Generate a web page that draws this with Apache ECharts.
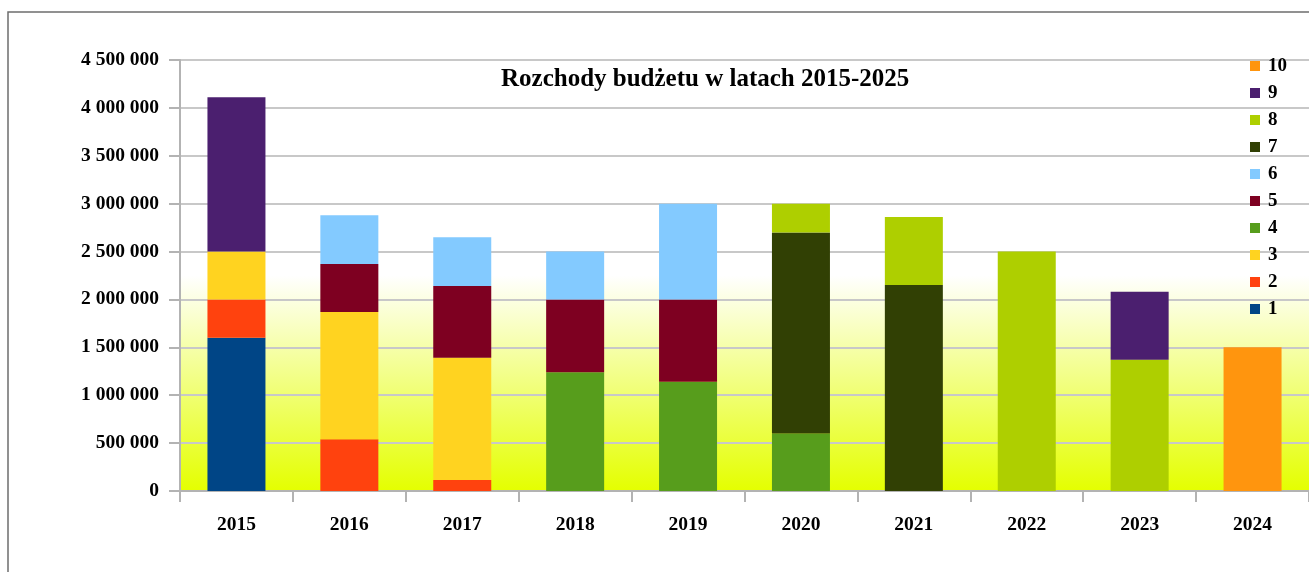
<!DOCTYPE html>
<html>
<head>
<meta charset="utf-8">
<script src="https://cdn.jsdelivr.net/npm/echarts@6/dist/echarts.min.js"></script>
<style>
html,body{margin:0;padding:0;background:#fff;}
#c{width:1309px;height:572px;}
</style>
</head>
<body>
<div id="c"></div>
<script>
const categories = ['2015','2016','2017','2018','2019','2020','2021','2022','2023','2024'];
const seriesNames = ['1','2','3','4','5','6','7','8','9','10'];
const s1  = [1600000, null, null, null, null, null, null, null, null, null];
const s2  = [400000, 540000, 115000, null, null, null, null, null, null, null];
const s3  = [500000, 1330000, 1275000, null, null, null, null, null, null, null];
const s4  = [null, null, null, 1240000, 1140000, 600000, null, null, null, null];
const s5  = [null, 500000, 750000, 760000, 860000, null, null, null, null, null];
const s6  = [null, 510000, 510000, 500000, 1000000, null, null, null, null, null];
const s7  = [null, null, null, null, null, 2100000, 2150000, null, null, null];
const s8  = [null, null, null, null, null, 300000, 710000, 2500000, 1370000, null];
const s9  = [1610000, null, null, null, null, null, null, null, 710000, null];
const s10 = [null, null, null, null, null, null, null, null, null, 1500000];
const seriesValues = [s1, s2, s3, s4, s5, s6, s7, s8, s9, s10];
const colors = ['#004586','#ff420e','#ffd320','#579d1c','#7e0021','#83caff','#314004','#aecf00','#4b1f6f','#ff950e'];
const titleText = 'Rozchody budżetu w latach 2015-2025';

const chart = echarts.init(document.getElementById('c'));
const font = '"Liberation Serif", "Times New Roman", serif';
chart.setOption({
  animation: false,
  color: colors,
  title: {
    text: titleText,
    left: 496, top: 62,
    textStyle: {fontFamily: font, fontWeight: 'bold', fontSize: 25, color: '#000'}
  },
  legend: {
    orient: 'vertical',
    left: 1245, top: 50,
    data: seriesNames.slice().reverse(),
    icon: 'rect',
    itemWidth: 10, itemHeight: 10,
    itemGap: 5,
    textStyle: {fontFamily: font, fontWeight: 'bold', fontSize: 19, color: '#000', lineHeight: 20, padding: [2,0,0,3]}
  },
  graphic: [{
    type: 'rect',
    shape: {x: 8, y: 12, width: 1400, height: 700},
    style: {fill: 'none', stroke: '#6e6e6e', lineWidth: 1.5},
    silent: true, z: -10
  }],
  grid: {
    left: 180, top: 60, right: -6, bottom: 81,
    show: true,
    borderWidth: 0,
    backgroundColor: new echarts.graphic.LinearGradient(0, 0, 0, 1, [
      {offset: 0, color: '#ffffff'},
      {offset: 0.5, color: '#ffffff'},
      {offset: 1, color: '#e4ff00'}
    ])
  },
  xAxis: {
    type: 'category',
    data: categories,
    axisLine: {lineStyle: {color: '#b3b3b3', width: 2}},
    axisTick: {show: true, length: 11, lineStyle: {color: '#b3b3b3', width: 2}},
    axisLabel: {fontFamily: font, fontWeight: 'bold', fontSize: 19.5, color: '#000', margin: 24}
  },
  yAxis: {
    type: 'value',
    min: 0, max: 4500000, interval: 500000,
    axisLine: {show: true, lineStyle: {color: '#b3b3b3', width: 2}},
    axisTick: {show: true, length: 11, lineStyle: {color: '#b3b3b3', width: 2}},
    splitLine: {lineStyle: {color: '#c8c8c8', width: 2}},
    axisLabel: {
      fontFamily: font, fontWeight: 'bold', fontSize: 19.5, color: '#000', margin: 21,
      formatter: v => String(v).replace(/\B(?=(\d{3})+(?!\d))/g, ' ')
    }
  },
  series: seriesNames.map((n, i) => ({
    name: n,
    type: 'bar',
    stack: 'total',
    barWidth: 58,
    data: seriesValues[i]
  }))
});
</script>
</body>
</html>
